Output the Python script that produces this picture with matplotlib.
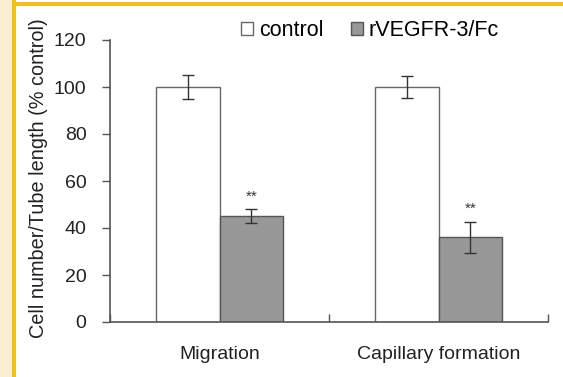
import numpy as np
import matplotlib
matplotlib.use('Agg')
import matplotlib.pyplot as plt
from matplotlib.patches import Rectangle

# data
categories = ['Migration', 'Capillary formation']
control = [100, 100]
control_err = [5, 4.5]
treated = [45, 36]
treated_err = [3, 6.5]
series_labels = ['control', 'rVEGFR-3/Fc']
yticks = [0, 20, 40, 60, 80, 100, 120]

plt.rcParams['font.family'] = ['Liberation Sans', 'DejaVu Sans']

W, H = 563, 377
fig = plt.figure(figsize=(W/100., H/100.), dpi=100)
fig.patch.set_facecolor('white')

# page decoration: cream strip + yellow border
fig.patches.append(Rectangle((0, 0), 12./W, 1, transform=fig.transFigure,
                             facecolor='#fbeed3', edgecolor='none', zorder=0))
fig.patches.append(Rectangle((12./W, 0), 4./W, 1, transform=fig.transFigure,
                             facecolor='#f6be1c', edgecolor='none', zorder=0))
fig.patches.append(Rectangle((12./W, 1-6./H), 1, 4./H, transform=fig.transFigure,
                             facecolor='#f6be1c', edgecolor='none', zorder=0))

ax = fig.add_axes([110./W, 1-322./H, 438./W, 282./H])
ax.set_facecolor('none')

axcol = '#555555'
txtcol = '#222222'
x = np.arange(len(categories)) + 0.5
bw = 0.29
ax.bar(x - bw/2, control, bw, color='white', edgecolor='#666666', lw=1.0,
       label=series_labels[0], zorder=2)
ax.bar(x + bw/2, treated, bw, color='#989898', edgecolor='#555555', lw=1.0,
       label=series_labels[1], zorder=2)
ax.errorbar(x - bw/2, control, yerr=control_err, fmt='none', ecolor='#333333',
            elinewidth=1.0, capsize=4, capthick=1.0, zorder=3)
ax.errorbar(x + bw/2, treated, yerr=treated_err, fmt='none', ecolor='#333333',
            elinewidth=1.0, capsize=4, capthick=1.0, zorder=3)
for xi, v, e in zip(x, treated, treated_err):
    ax.text(xi + bw/2, v + e + 2.5, '**', ha='center', va='bottom',
            fontsize=11, color='#333333')

ax.set_xlim(0, 2)
ax.set_ylim(0, 120)
ax.set_yticks(yticks)
ax.tick_params(axis='y', direction='out', length=6, width=1, color=axcol,
               labelsize=14, labelcolor=txtcol, pad=11)
ax.set_xticks([0, 1, 2])
ax.set_xticklabels([])
ax.tick_params(axis='x', which='major', direction='in', length=6, width=1, color=axcol)
ax.set_xticks(x, minor=True)
ax.set_xticklabels(categories, minor=True)
ax.tick_params(axis='x', which='minor', length=0, pad=17, labelsize=14,
               labelcolor=txtcol)
for s in ['top', 'right']:
    ax.spines[s].set_visible(False)
for s in ['left', 'bottom']:
    ax.spines[s].set_color(axcol)
    ax.spines[s].set_linewidth(1.2)

ax.set_ylabel('Cell number/Tube length (% control)', fontsize=14.3, color=txtcol)
ax.yaxis.set_label_coords(-0.142, 0.51)

ax.legend(loc='center', bbox_to_anchor=((370 - 110) / 438., (322 - 31) / 282.),
          ncol=2, frameon=False, fontsize=15.5, handlelength=0.55,
          handleheight=0.55, handletextpad=0.25, columnspacing=1.3,
          borderaxespad=0, borderpad=0)

fig.savefig('out.png', dpi=100)
